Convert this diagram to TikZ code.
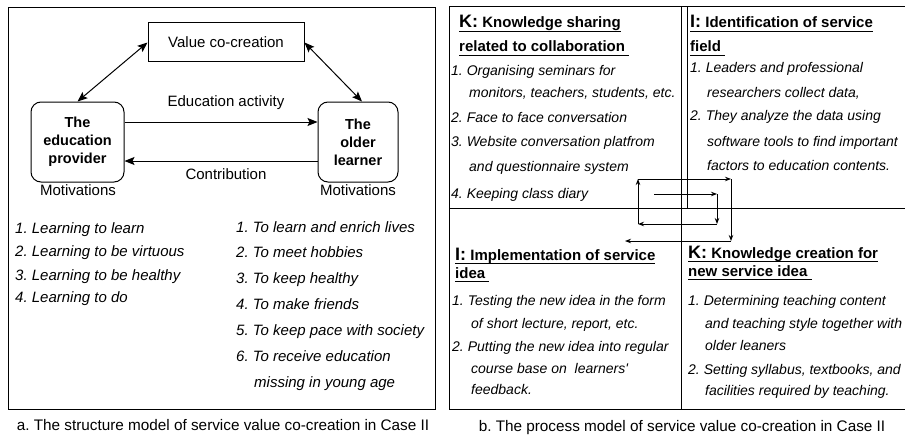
\documentclass[tikz,border=0pt]{standalone}
\usepackage{fontspec}
\setmainfont{Liberation Sans}[Ligatures=TeXOff]
\usetikzlibrary{arrows.meta}
\frenchspacing
% underlined heading line with a fixed rule depth
\newcommand\ulhead[1]{\setbox0\hbox{#1}\rlap{\rule[-4pt]{\wd0}{1.3pt}}\box0}
\newcommand\bigletter[1]{{\fontsize{18}{18}\selectfont #1}}
\begin{document}
\begin{tikzpicture}[x=1pt,y=-1pt,
  frame/.style={draw, line width=1pt},
  plain/.style={font=\fontsize{15}{18}\selectfont, inner sep=0},
  caption/.style={font=\fontsize{15.3}{18}\selectfont, inner sep=0},
  item/.style={font=\fontsize{15}{18}\selectfont\itshape, anchor=base west, inner sep=0},
  sitem/.style={font=\fontsize{14}{17}\selectfont\itshape, anchor=base west, inner sep=0},
  head/.style={font=\fontsize{15}{18}\selectfont\bfseries, anchor=base west, inner sep=0},
  actor/.style={draw, line width=1pt, rounded corners=10pt, minimum height=80pt,
    align=center, inner sep=0, font=\fontsize{14.5}{18}\selectfont\bfseries},
  big/.style={-{Stealth[length=10pt,width=8pt,inset=2pt]}, line width=1pt},
  dbl/.style={{Stealth[length=10pt,width=8pt,inset=2pt]}-{Stealth[length=10pt,width=8pt,inset=2pt]}, line width=1pt},
  small/.style={-{Stealth[length=6pt,width=4.5pt]}, line width=0.9pt}
]
\useasboundingbox (0,0) rectangle (905,436);

% ---------- structure model ----------
\draw[frame] (8,8) rectangle (435,409);
\node[draw, line width=1pt, minimum width=156pt, minimum height=39pt, plain] (value) at (226,42.5) {Value co-creation};
\node[actor, minimum width=93pt] (prov) at (77.5,142) {The\\education\\provider};
\node[actor, minimum width=80pt] (learn) at (358,142) {The\\older\\learner};

\draw[dbl] (value.west) -- (prov.north);
\draw[dbl] (value.east) -- ([xshift=4pt]learn.north);
\draw[big] ([yshift=20pt]prov.east) -- ([yshift=20pt]learn.west);
\draw[big] ([yshift=-19pt]learn.west) -- ([yshift=-19pt]prov.east);

\node[plain] (edu) at (226,103) {Education activity};
\node[plain] (contr) at (226,174) {Contribution};
\node[plain] (motl) at (78,190) {Motivations};
\node[plain] (motr) at (358,190) {Motivations};

\node[item] (l1) at (15,233) {1. Learning to learn};
\node[item] (l2) at (15,256) {2. Learning to be virtuous};
\node[item] (l3) at (15,280) {3. Learning to be healthy};
\node[item] (l4) at (15,302) {4. Learning to do};

\node[item] (r1) at (236,232) {1. To learn and enrich lives};
\node[item] (r2) at (236,257) {2. To meet hobbies};
\node[item] (r3) at (236,283) {3. To keep healthy};
\node[item] (r4) at (236,309) {4. To make friends};
\node[item] (r5) at (236,335) {5. To keep pace with society};
\node[item] (r6) at (236,361) {6. To receive education};
\node[item] (r6b) at (254,387) {missing in young age};

\node[caption] (capa) at (223,425) {a. The structure model of service value co-creation in Case II};

% ---------- process model ----------
\draw[frame] (449,7) rectangle (910,409);
\draw[frame] (449,208) -- (910,208);
\draw[frame] (681,7) -- (681,409);
\draw[frame] (687,7) -- (687,208);

% knowledge sharing
\node[head] (ks1) at (459,28) {\ulhead{\bigletter{K:} Knowledge sharing}};
\node[head] (ks2) at (459,52) {\ulhead{related to collaboration\ }};
\node[sitem] (ks3) at (451,75) {1. Organising seminars for};
\node[sitem] (ks4) at (469,97) {monitors, teachers, students, etc.};
\node[sitem] (ks5) at (451,122) {2. Face to face conversation};
\node[sitem] (ks6) at (451,146) {3. Website conversation platfrom};
\node[sitem] (ks7) at (469,171) {and questionnaire system};
\node[sitem] (ks8) at (451,198) {4. Keeping class diary};

% identification
\node[head] (id1) at (690,28) {\ulhead{\bigletter{I:} Identification of service}};
\node[head] (id2) at (690,52) {\ulhead{field\ }};
\node[sitem] (id3) at (690,73) {1. Leaders and professional};
\node[sitem] (id4) at (707,97) {researchers collect data,};
\node[sitem] (id5) at (690,121) {2. They analyze the data using};
\node[sitem] (id6) at (707,146) {software tools to find important};
\node[sitem] (id7) at (707,170) {factors to education contents.};

% implementation
\node[head] (im1) at (455,260) {\ulhead{\bigletter{I:} Implementation of service}};
\node[head] (im2) at (455,278) {\ulhead{idea\ }};
\node[sitem] (im3) at (452,305) {1. Testing the new idea in the form};
\node[sitem] (im4) at (471,328) {of short lecture, report, etc.};
\node[sitem] (im5) at (452,351) {2. Putting the new idea into regular};
\node[sitem] (im6) at (471,373) {course base on\ \ learners'};
\node[sitem] (im7) at (471,394) {feedback.};

% knowledge creation
\node[head] (kc1) at (688,258) {\ulhead{\bigletter{K:} Knowledge creation for}};
\node[head] (kc2) at (688,276) {\ulhead{new service idea\ }};
\node[sitem] (kc3) at (688,305) {1. Determining teaching content};
\node[sitem] (kc4) at (705,328) {and teaching style together with};
\node[sitem] (kc5) at (705,350) {older leaners};
\node[sitem] (kc6) at (688,374) {2. Setting syllabus, textbooks, and};
\node[sitem] (kc7) at (705,395) {facilities required by teaching.};

% spiral of the cycle
\coordinate (s1) at (654,194);
\coordinate (s2) at (717,194);
\coordinate (s3) at (717,224);
\coordinate (s4) at (638,224);
\coordinate (s5) at (638,179);
\coordinate (s6) at (731,179);
\coordinate (s7) at (731,241);
\coordinate (s8) at (625,241);
\draw[small] (s1) -- (s2);
\draw[small] (s2) -- (s3);
\draw[small] (s3) -- (s4);
\draw[small] (s4) -- (s5);
\draw[small] (s5) -- (s6);
\draw[small] (s6) -- (s7);
\draw[small] (s7) -- (s8);

\node[caption] (capb) at (682,428) {b. The process model of service value co-creation in Case II};
\end{tikzpicture}
\end{document}
